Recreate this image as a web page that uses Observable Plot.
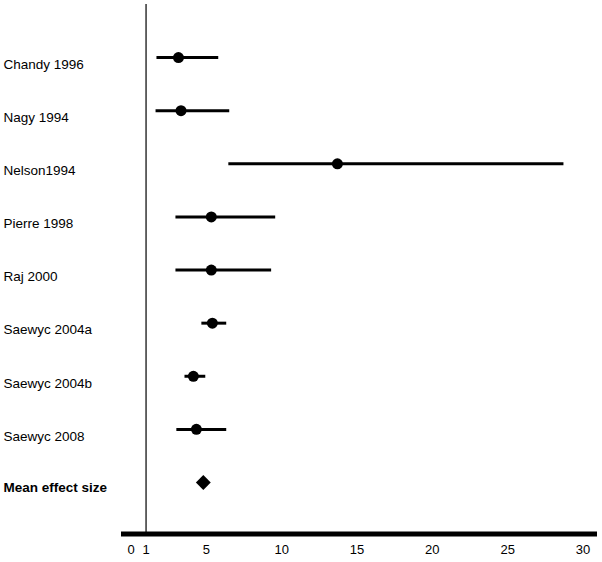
<!DOCTYPE html>
<html>
<head>
<meta charset="utf-8">
<script src="https://cdn.jsdelivr.net/npm/d3@7"></script>
<script src="https://cdn.jsdelivr.net/npm/@observablehq/plot@0.6"></script>
<style>
  html, body { margin: 0; padding: 0; background: #fff; }
</style>
</head>
<body>
<div id="chart"></div>
<script>
const studies = ["Chandy 1996", "Nagy 1994", "Nelson1994", "Pierre 1998", "Raj 2000", "Saewyc 2004a", "Saewyc 2004b", "Saewyc 2008"];
const effect = [3.15, 3.32, 13.7, 5.33, 5.33, 5.40, 4.14, 4.34];
const lower  = [1.69, 1.63, 6.46, 2.95, 2.95, 4.67, 3.55, 3.01];
const upper  = [5.79, 6.52, 28.7, 9.57, 9.3, 6.32, 4.93, 6.32];
const meanLabel = "Mean effect size";
const meanEffect = 4.80;
const xTicks = [0, 1, 5, 10, 15, 20, 25, 30];
const refLine = 1;

const rows = studies.map((s, i) => ({i, name: s, eff: effect[i], lo: lower[i], hi: upper[i]}));
const meanRow = [{i: studies.length, name: meanLabel, eff: meanEffect}];

const xDomain = [-0.63, 30.96];
const yDomain = [-1, 8.97];

const chart = Plot.plot({
  width: 602,
  height: 562,
  marginLeft: 121,
  marginRight: 5,
  marginTop: 4,
  marginBottom: 28.5,
  style: {fontFamily: "Arial, 'Liberation Sans', sans-serif", fontSize: "13px", color: "#000", background: "#fff"},
  x: {domain: xDomain},
  y: {domain: yDomain, reverse: true, axis: null},
  marks: [
    Plot.ruleX([refLine], {stroke: "#333", strokeWidth: 1.5}),
    Plot.ruleY([yDomain[1]], {stroke: "#000", strokeWidth: 5}),
    Plot.axisX({ticks: xTicks, tickSize: 0, tickPadding: 11, fontSize: 13, fill: "#000"}),
    Plot.link(rows, {x1: "lo", x2: "hi", y1: "i", y2: "i", stroke: "#000", strokeWidth: 3}),
    Plot.dot(rows, {x: "eff", y: "i", r: 5.5, fill: "#000", stroke: null}),
    Plot.dot(meanRow, {x: "eff", y: "i", r: 6.7, symbol: "diamond2", fill: "#000", stroke: null}),
    Plot.text(rows, {y: "i", text: "name", frameAnchor: "left", dx: -118, dy: 7, textAnchor: "start", fontSize: 13.5, fill: "#000"}),
    Plot.text(meanRow, {y: "i", text: "name", frameAnchor: "left", dx: -118, dy: 5, textAnchor: "start", fontSize: 13.5, fontWeight: "bold", fill: "#000"})
  ]
});
document.getElementById("chart").appendChild(chart);
</script>
</body>
</html>
